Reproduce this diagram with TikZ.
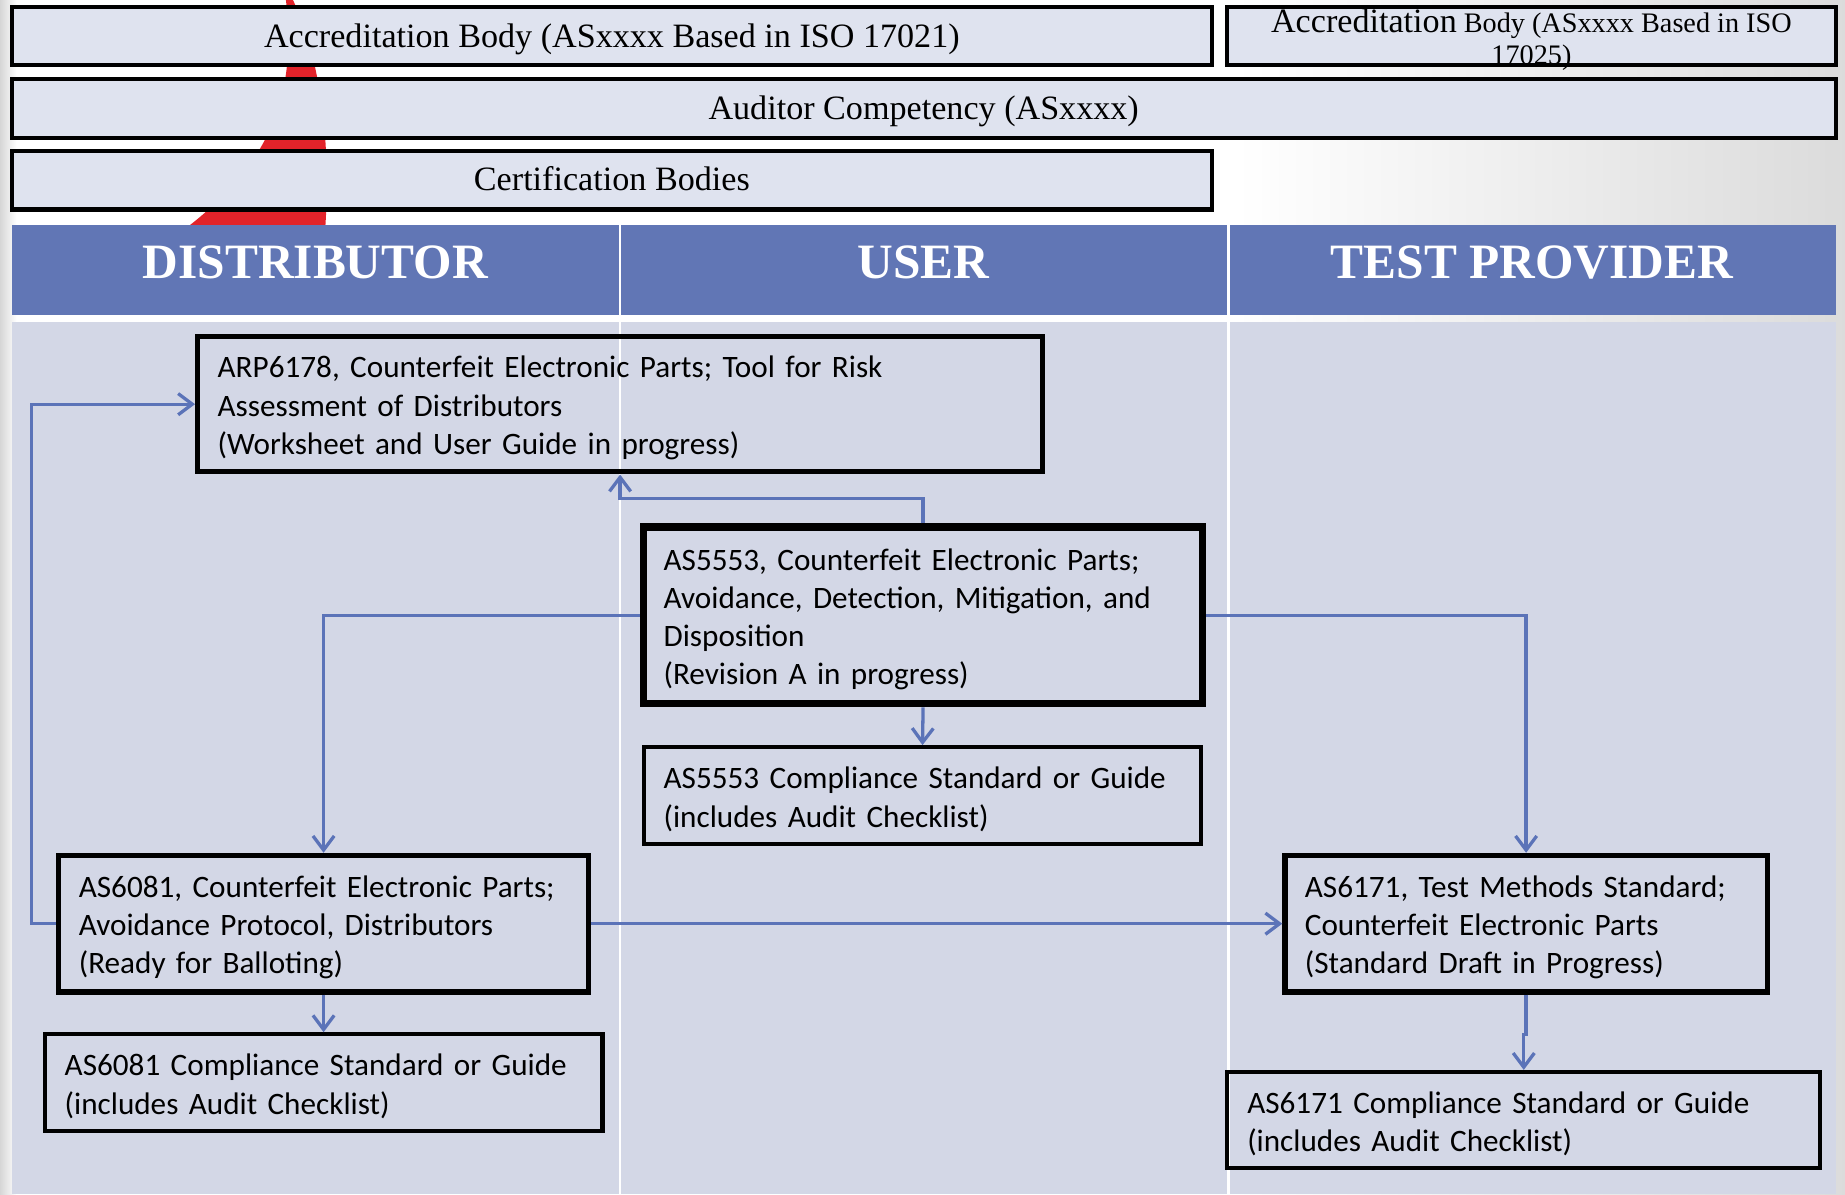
\documentclass[tikz,border=0pt]{standalone}
\usepackage{fontspec}
\setmainfont{Liberation Serif}
\newfontfamily\bodyfont{Carlito}
\usetikzlibrary{arrows.meta}
\definecolor{boxfill}{HTML}{DFE3EF}
\definecolor{hdrblue}{HTML}{6176B5}
\definecolor{colfill}{HTML}{D3D7E6}
\definecolor{linkblue}{HTML}{5B73B8}
\definecolor{logored}{HTML}{E2232A}
\newcommand\oneline[1]{\mbox{#1}}
\newcommand\firstline[1]{\rule{0pt}{25pt}\mbox{#1}}
\begin{document}
\begin{tikzpicture}[x=1pt,y=-1pt,
  topbox/.style={draw=black, line width=3.5pt, fill=boxfill, minimum height=49pt, inner sep=0pt,
    text height=25pt, text depth=6pt, font=\fontsize{29}{33}\selectfont},
  hdrtext/.style={text=white, font=\fontsize{42}{46}\selectfont\bfseries, anchor=base, inner sep=0pt},
  docbox/.style={draw=black, align=left, inner xsep=17pt, inner ysep=0pt,
    font=\bodyfont\fontsize{26.5}{32.5}\selectfont},
  link/.style={draw=linkblue, line width=2.8pt, -{Straight Barb[length=12pt,width=18pt]}}]
\useasboundingbox (0,0) rectangle (1568,1015);
% background
\fill[white] (0,0) rectangle (1568,1015);
\shade[left color=black!16, right color=white] (0,0) rectangle (14,1015);
\shade[left color=white, right color=black!14] (1050,0) rectangle (1568,1015);
% red logo swoosh
\fill[logored] (243,0) .. controls (252,80) and (232,140) .. (150,200) -- (276,200)
  .. controls (282,120) and (272,50) .. (249,0) -- cycle;
% top boxes
\node[topbox, minimum width=1020pt] (ab1) at (520,30.5) {Accreditation Body (ASxxxx Based in ISO 17021)};
\node[topbox, minimum width=517pt] (ab2) at (1301.5,30.5) {};
\node[align=center, inner sep=0pt, font=\fontsize{24}{27}\selectfont] (ab2t) at (1301.5,34)
  {{\fontsize{29}{27}\selectfont Accreditation} Body (ASxxxx Based in ISO\\17025)};
\node[topbox, minimum width=1550pt, minimum height=50pt] (aud) at (785,92) {Auditor Competency (ASxxxx)};
\node[topbox, minimum width=1020pt, minimum height=50pt, text height=24pt] (cert) at (520,153) {Certification Bodies};
% header cells and columns
\fill[hdrblue] (10,191) rectangle (526,268);
\fill[hdrblue] (528,191) rectangle (1043,268);
\fill[hdrblue] (1045,191) rectangle (1560,268);
\fill[colfill] (10,274) rectangle (526,1015);
\fill[colfill] (528,274) rectangle (1043,1015);
\fill[colfill] (1045,274) rectangle (1560,1015);
\node[hdrtext] (hdist) at (268,237) {DISTRIBUTOR};
\node[hdrtext] (huser) at (785,237) {USER};
\node[hdrtext] (htest) at (1302,237) {TEST PROVIDER};
% document boxes
\node[docbox, line width=4.5pt, minimum width=718pt, text width=684pt, minimum height=115pt] (arp) at (527,343.5)
  {\firstline{ARP6178, Counterfeit Electronic Parts; Tool for Risk}\\\oneline{Assessment of Distributors}\\\oneline{(Worksheet and User Guide in progress)}};
\node[docbox, line width=6.5pt, minimum width=475pt, text width=441pt, minimum height=150pt] (a5553) at (784.5,523)
  {\firstline{AS5553, Counterfeit Electronic Parts;}\\\oneline{Avoidance, Detection, Mitigation, and}\\\oneline{Disposition}\\\oneline{(Revision A in progress)}};
\node[docbox, line width=3.5pt, minimum width=474pt, text width=440pt, minimum height=82pt] (c5553) at (784,676)
  {\firstline{AS5553 Compliance Standard or Guide}\\\oneline{(includes Audit Checklist)}};
\node[docbox, line width=4.5pt, minimum width=450pt, text width=416pt, minimum height=116pt] (a6081) at (275,785)
  {\firstline{AS6081, Counterfeit Electronic Parts;}\\\oneline{Avoidance Protocol, Distributors}\\\oneline{(Ready for Balloting)}};
\node[docbox, line width=3.5pt, minimum width=474pt, text width=440pt, minimum height=82pt] (c6081) at (275,920)
  {\firstline{AS6081 Compliance Standard or Guide}\\\oneline{(includes Audit Checklist)}};
\node[docbox, line width=4.5pt, minimum width=410pt, text width=376pt, minimum height=116pt] (a6171) at (1297,785)
  {\firstline{AS6171, Test Methods Standard;}\\\oneline{Counterfeit Electronic Parts}\\\oneline{(Standard Draft in Progress)}};
\node[docbox, line width=3.5pt, minimum width=504pt, text width=470pt, minimum height=82pt] (c6171) at (1295,952)
  {\firstline{AS6171 Compliance Standard or Guide}\\\oneline{(includes Audit Checklist)}};
% connectors
\draw[link] (a6081.west) -- ++(-21,0) |- (arp.west);
\draw[link] (a5553.north) -- ++(0,-21) -| (arp.south);
\draw[link] (a5553.west) -| (a6081.north);
\draw[link] (a5553.east) -| (a6171.north);
\draw[link] (a5553.south) -- (c5553.north);
\draw[link] (a6081.east) -- (a6171.west);
\draw[link] (a6081.south) -- (c6081.north);
\draw[link] (a6171.south) -- ++(0,34) -| (c6171.north);
\end{tikzpicture}
\end{document}
